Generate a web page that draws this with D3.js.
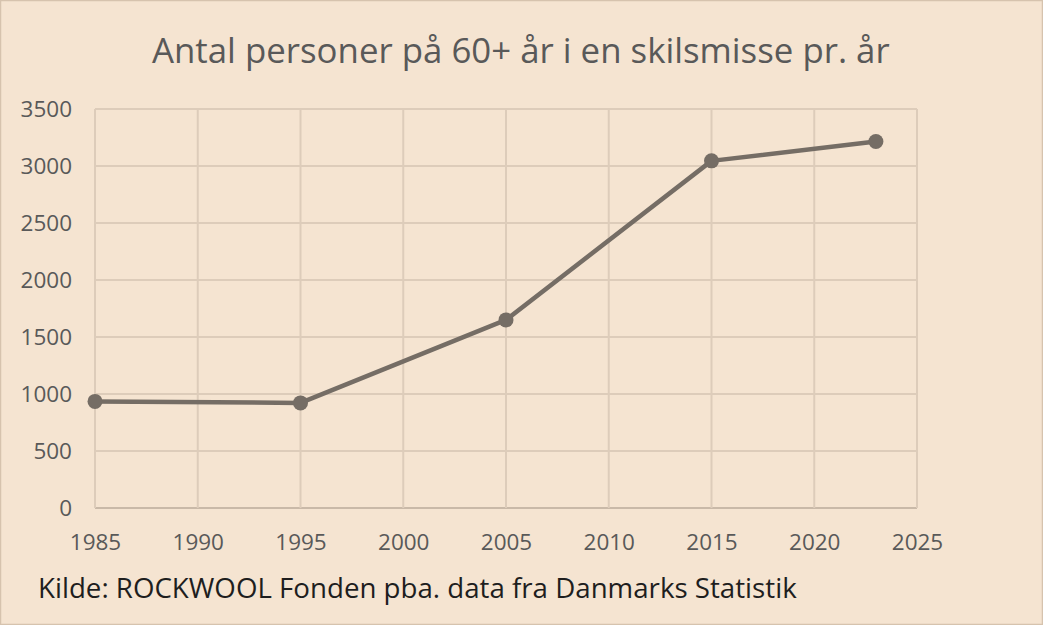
<!DOCTYPE html>
<html><head><meta charset="utf-8">
<script src="https://cdn.jsdelivr.net/npm/d3@7"></script>
<style>html,body{margin:0;padding:0;background:#F5E4D1;}svg{display:block;}</style>
</head><body>
<svg id="c" width="1043" height="625"></svg>
<script>
const years = [1985, 1995, 2005, 2015, 2023];
const values = [935, 922, 1650, 3045, 3215];
const xTicks = [1985, 1990, 1995, 2000, 2005, 2010, 2015, 2020, 2025];
const yTicks = [0, 500, 1000, 1500, 2000, 2500, 3000, 3500];
const titleText = "Antal personer på 60+ år i en skilsmisse pr. år";
const sourceText = "Kilde: ROCKWOOL Fonden pba. data fra Danmarks Statistik";

const svg = d3.select("#c");
const W = 1043, H = 625;
const m = {left: 95, right: 1043 - 917, top: 109, bottom: 625 - 508};
svg.append("rect").attr("x", 0.5).attr("y", 0.5).attr("width", W - 1).attr("height", H - 1)
  .attr("fill", "#F5E4D1").attr("stroke", "#D6C3AE").attr("stroke-width", 1.5);

const x = d3.scaleLinear().domain([1985, 2025]).range([m.left, W - m.right]);
const y = d3.scaleLinear().domain([0, 3500]).range([H - m.bottom, m.top]);

const font = "'Open Sans', sans-serif";

// grid
const g = svg.append("g");
g.selectAll("line.h").data(yTicks).join("line")
  .attr("x1", x(1985)).attr("x2", x(2025)).attr("y1", d => y(d)).attr("y2", d => y(d))
  .attr("stroke", d => d === 0 ? "#C9B9A8" : "#DDCCBA").attr("stroke-width", 2);
g.selectAll("line.v").data(xTicks).join("line")
  .attr("y1", y(0)).attr("y2", y(3500)).attr("x1", d => x(d)).attr("x2", d => x(d))
  .attr("stroke", "#DDCCBA").attr("stroke-width", 2);

// y axis labels
const yAxis = d3.axisLeft(y).tickValues(yTicks).tickSize(0).tickPadding(23).tickFormat(d3.format("d"));
const ya = svg.append("g").attr("transform", `translate(${m.left},0)`).call(yAxis);
ya.select(".domain").remove();
ya.selectAll("text").attr("font-family", font).attr("font-size", 22.5).attr("fill", "#595959");

// x axis labels
const xAxis = d3.axisBottom(x).tickValues(xTicks).tickSize(0).tickPadding(26).tickFormat(d3.format("d"));
const xa = svg.append("g").attr("transform", `translate(0,${y(0)})`).call(xAxis);
xa.select(".domain").remove();
xa.selectAll("text").attr("font-family", font).attr("font-size", 22.5).attr("fill", "#595959");

// line
const data = years.map((yr, i) => ({yr, v: values[i]}));
svg.append("path").datum(data)
  .attr("d", d3.line().x(d => x(d.yr)).y(d => y(d.v)))
  .attr("fill", "none").attr("stroke", "#756D65").attr("stroke-width", 4.5).attr("stroke-linejoin", "round");
svg.selectAll("circle.pt").data(data).join("circle")
  .attr("cx", d => x(d.yr)).attr("cy", d => y(d.v)).attr("r", 7.5).attr("fill", "#756D65");

// title
function fitText(sel, target) {
  const w = sel.node().getComputedTextLength();
  const fs = parseFloat(sel.attr("font-size"));
  sel.attr("font-size", fs * target / w);
}
const t = svg.append("text").attr("x", 152).attr("y", 63).attr("font-family", font)
  .attr("font-size", 35).attr("fill", "#595959").text(titleText);
fitText(t, 738);

const s = svg.append("text").attr("x", 38).attr("y", 598).attr("font-family", font)
  .attr("font-size", 25).attr("fill", "#1E1E1E").text(sourceText);
fitText(s, 759);
</script>
</body></html>
